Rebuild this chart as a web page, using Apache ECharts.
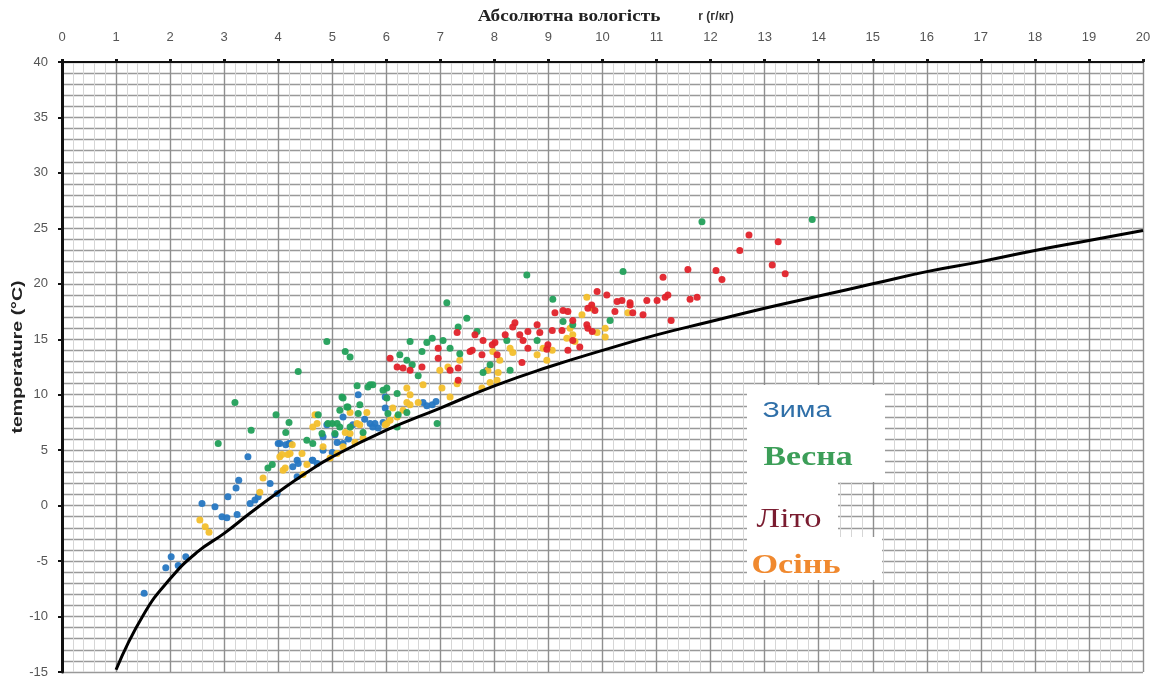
<!DOCTYPE html>
<html>
<head>
<meta charset="utf-8">
<script src="https://cdn.jsdelivr.net/npm/echarts@6/dist/echarts.min.js"></script>
<style>html,body{margin:0;padding:0;background:#fff}#c{width:1156px;height:684px}</style>
</head>
<body>
<div id="c"></div>
<script>
// ---- data ----
const xTicks = [0,1,2,3,4,5,6,7,8,9,10,11,12,13,14,15,16,17,18,19,20];
const yTicks = [-15,-10,-5,0,5,10,15,20,25,30,35,40];
const xTitle = 'Абсолютна вологість';
const xUnit = 'r (г/кг)';
const yTitle = 'temperature (°C)';
const seasonNames = ['Зима','Весна','Літо','Осінь'];

// saturation curve: [mixing ratio g/kg, temperature °C]
const saturation = [[1.0,-14.8],[1.5,-9.9],[2.0,-6.6],[2.5,-4.2],[3.0,-2.5],[3.5,-0.6],[4.0,1.2],[4.5,2.9],[5.0,4.4],[6.0,6.8],[7.0,8.8],[8.0,10.8],[9.0,12.5],[10.0,14.0],[11.0,15.4],[12.0,16.6],[13.0,17.8],[14.0,18.9],[15.0,20.0],[16.0,21.1],[17.0,22.0],[18.0,23.0],[19.0,23.9],[20.0,24.8]];

const winter = [[1.52,-7.9],[1.92,-5.6],[2.02,-4.6],[2.15,-5.4],[2.29,-4.6],
[2.59,0.2],[2.83,-0.1],[2.96,-1.0],[3.07,0.8],[3.05,-1.1],[3.24,-0.8],[3.27,2.3],[3.22,1.6],[3.44,4.4],[3.48,0.2],[3.57,0.5],[3.63,0.8],[3.85,2.0],[3.98,1.1],[4.14,5.5],[4.2,5.6],[4.27,3.5],[4.0,5.6],
[4.35,2.6],[4.35,4.1],[4.64,4.1],[4.72,3.8],[4.83,5.0],[5.0,4.8],[4.83,6.2],[5.09,5.7],[5.79,7.4],[5.7,7.4],[5.94,7.5],[5.85,7.0],[5.38,7.3],[5.2,8.0],[5.98,8.8],[5.48,10.0],[5.75,7.1],[6.68,9.3],[6.85,9.1],[6.92,9.4],[5.98,9.8],[4.9,7.3],[5.05,6.4],[5.2,5.6],[4.37,3.8],[4.63,4.1],[4.03,5.6],[4.22,5.6],[7.86,12.2],[6.75,9.0],[5.6,7.8],[5.3,6.0]];

const spring = [[2.89,5.6],[3.2,9.3],[3.5,6.8],[3.96,8.2],[4.2,7.5],[4.14,6.6],[3.81,3.4],[3.89,3.7],
[5.18,9.8],[5.46,10.8],[5.7,10.9],[5.94,10.4],[6.01,9.7],[6.2,10.1],[5.29,8.9],[5.48,8.3],[5.0,7.4],[5.14,7.1],[5.33,7.1],[4.53,5.9],[4.64,5.6],[4.81,6.5],[5.05,6.5],
[7.12,18.3],[7.49,16.9],[7.33,16.1],[7.68,15.7],[6.44,14.8],[6.85,15.1],[6.75,14.7],[7.18,14.2],[6.66,13.9],[6.38,13.1],[6.25,13.6],[6.48,12.7],[6.59,11.7],[7.92,12.7],[7.79,12.0],[4.9,14.8],[5.24,13.9],[5.33,13.4],[4.37,12.1],[5.66,10.7],[5.75,10.9],[6.01,10.6],[5.2,9.7],[5.51,9.1],[5.27,8.9],[5.14,8.6],[4.74,8.2],[4.92,7.4],[5.09,7.4],[6.03,8.3],[6.22,8.2],[6.38,8.4],[6.2,7.1],[5.57,6.6],[6.94,7.4],
[8.6,20.8],[10.38,21.1],[9.08,18.6],[7.36,13.7],[8.23,14.9],[8.29,12.2],[9.27,16.6],[9.45,16.3],[10.14,16.7],[8.79,14.9],[11.84,25.6],[13.88,25.8],[7.05,14.9]];

const summer = [[6.07,13.3],[6.2,12.5],[6.31,12.4],[6.44,12.2],[6.66,12.5],[6.96,14.2],[7.31,15.6],[7.64,15.4],[7.79,14.9],[8.01,14.7],[7.55,13.9],[7.77,13.6],[8.05,13.6],[7.18,12.2],[7.33,11.3],[6.96,13.3],
[9.9,19.3],[10.08,19.0],[9.8,18.1],[9.73,17.8],[10.27,18.4],[10.51,18.1],[10.82,18.5],[10.23,17.5],[10.56,17.4],[10.75,17.2],[9.12,17.4],[9.27,17.6],[9.36,17.5],[9.45,16.7],[9.71,16.3],[9.73,16.0],[9.81,15.7],[8.38,16.5],[8.34,16.1],[8.79,16.3],[9.07,15.8],[8.84,15.6],[8.62,15.7],[8.47,15.4],[8.2,15.4],[8.53,14.9],[9.45,14.9],[9.58,14.3],[9.36,14.0],[8.99,14.5],[8.97,14.1],[8.62,14.2],[7.96,14.5],[7.59,14.0],[7.33,12.4],[8.51,12.9],
[12.71,24.4],[13.25,23.8],[12.54,23.0],[13.14,21.7],[13.38,20.9],[11.12,20.6],[11.58,21.3],[12.1,21.2],[12.21,20.4],[10.36,18.5],[10.51,18.3],[11.01,18.5],[11.16,18.8],[11.21,19.0],[11.62,18.6],[11.75,18.8],[11.27,16.7],[9.86,17.6],[9.25,15.8]];

const autumn = [[2.55,-1.3],[2.72,-2.4],[2.65,-1.9],[3.72,2.5],[3.66,1.2],[4.03,4.4],[4.09,3.2],[4.18,4.6],[4.07,4.6],[4.22,4.7],[4.13,3.4],[4.46,2.8],[4.68,8.2],[4.72,7.4],[4.83,5.3],[4.96,4.3],[5.09,4.7],[5.33,6.5],[5.46,7.4],[5.64,8.4],[5.98,7.3],[6.07,7.7],[5.57,6.1],[5.42,5.7],[5.2,5.3],[4.53,3.7],
[6.68,10.9],[7.03,10.6],[7.18,9.8],[6.38,9.3],[6.44,9.1],[6.59,9.3],[6.12,8.8],[6.01,7.4],[6.2,8.0],[6.31,8.6],[4.64,7.1],[5.33,8.4],[5.51,7.3],[5.24,6.6],[4.26,5.5],[4.44,4.7],[7.92,11.1],[8.07,12.0],[7.77,10.6],[7.14,12.5],
[9.62,17.2],[9.71,18.8],[9.81,17.8],[10.47,17.4],[9.9,15.6],[9.45,15.4],[9.49,14.8],[9.34,15.1],[10.05,15.2],[9.07,14.0],[8.9,14.2],[8.79,13.6],[8.97,13.1],[8.29,14.2],[8.34,13.8],[7.97,13.9],[8.1,13.1],[7.88,12.2],[8.05,11.3],[7.36,13.1],[6.99,12.2],[6.38,10.6],[6.44,10.0],[7.31,11.0],[10.05,16.0],[9.4,16.0]];

// ---- chart ----
const chart = echarts.init(document.getElementById('c'), null, {renderer:'canvas'});
const dot = (name, data, color) => ({
  name, type:'scatter', data, symbol:'circle', symbolSize:7,
  itemStyle:{color, opacity:0.95}, silent:true, z:3
});
const serif = "'Liberation Serif','DejaVu Serif',serif";
const sans = "'Liberation Sans',Arial,sans-serif";
const txt = (text, x, y, font, fill, extra) => Object.assign({
  type:'text', x, y, z:11, silent:true,
  style:{text, font, fill, textAlign:'center', textVerticalAlign:'middle', align:'center', verticalAlign:'middle'}
}, extra || {});

chart.setOption({
  backgroundColor:'#ffffff',
  animation:false,
  grid:{left:62, right:13, top:62, bottom:12, containLabel:false},
  xAxis:{
    type:'value', position:'top', min:xTicks[0], max:xTicks[xTicks.length-1], interval:1,
    axisLine:{show:true, onZero:false, lineStyle:{color:'#111', width:2}},
    axisTick:{show:true, length:3, lineStyle:{color:'#111', width:3}},
    axisLabel:{color:'#555', fontFamily:sans, fontSize:13, margin:18},
    splitLine:{show:true, lineStyle:{color:'#8f8f8f', width:1.4}},
    minorTick:{show:false, splitNumber:5},
    minorSplitLine:{show:true, lineStyle:{color:'#d6d6d6', width:1}}
  },
  yAxis:{
    type:'value', min:yTicks[0], max:yTicks[yTicks.length-1], interval:5,
    axisLine:{show:true, onZero:false, lineStyle:{color:'#111', width:3}},
    axisTick:{show:true, length:4, lineStyle:{color:'#111', width:2}},
    axisLabel:{color:'#555', fontFamily:sans, fontSize:13, margin:14},
    splitLine:{show:true, lineStyle:{color:'#999', width:1.3}},
    minorTick:{show:false, splitNumber:5},
    minorSplitLine:{show:true, lineStyle:{color:'#999', width:1.3}}
  },
  series:[
    dot(seasonNames[0], winter, '#2677c2'),
    dot(seasonNames[3], autumn, '#f3bf2c'),
    dot(seasonNames[1], spring, '#22a05a'),
    dot(seasonNames[2], summer, '#e2222a'),
    {name:'saturation', type:'line', data:saturation, smooth:true, showSymbol:false, symbol:'none',
     lineStyle:{color:'#000', width:3}, silent:true, z:4}
  ],
  graphic:[
    {type:'rect', shape:{x:747,y:385,width:138,height:97}, style:{fill:'#fff'}, z:10, silent:true},
    {type:'rect', shape:{x:747,y:482,width:91,height:55}, style:{fill:'#fff'}, z:10, silent:true},
    {type:'rect', shape:{x:747,y:537,width:135,height:43}, style:{fill:'#fff'}, z:10, silent:true},
    txt(seasonNames[0], 797, 411, "22px "+sans, '#2f6fa8', {scaleX:1.3}),
    txt(seasonNames[1], 808, 458, "bold 27px "+serif, '#3c9e58', {scaleX:1.25}),
    txt(seasonNames[2], 789, 520, "27px "+serif, '#7a1c30', {scaleX:1.28}),
    txt(seasonNames[3], 796, 566, "bold 28px "+serif, '#f0892f', {scaleX:1.22}),
    txt(xTitle, 569, 17, "bold 16px "+serif, '#222', {scaleX:1.2}),
    txt(xUnit, 716, 17, "bold 12px "+sans, '#333'),
    txt(yTitle, 18, 357, "bold 15px "+sans, '#222', {rotation:Math.PI/2, scaleX:1.3})
  ]
});
</script>
</body>
</html>
